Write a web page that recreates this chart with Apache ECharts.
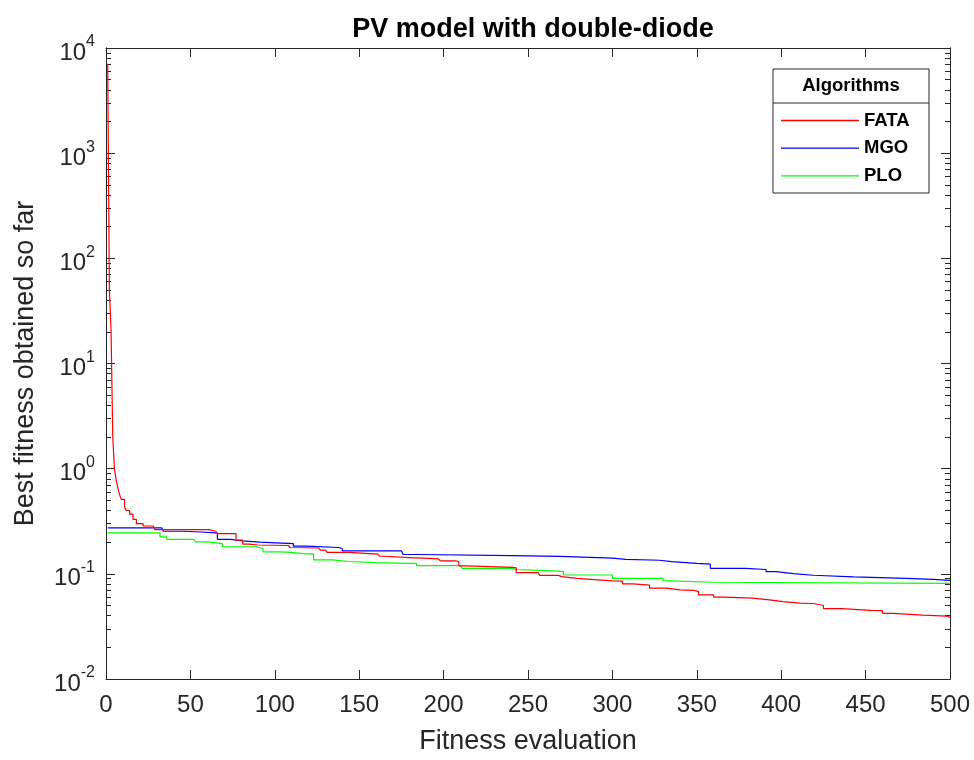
<!DOCTYPE html>
<html><head><meta charset="utf-8">
<script src="https://cdn.jsdelivr.net/npm/echarts@6/dist/echarts.min.js"></script>
<style>html,body{margin:0;padding:0;background:#fff}#c{width:974px;height:760px}</style>
</head><body><div id="c"></div>
<script>
// ---- data: [fitness evaluation, best fitness] change points (held until next point) ----
const fataData = [[1,7080],[2,51],[3,20.4],[4,2.0],[5,1.0],[6,0.78],[7,0.66],[8,0.57],[9,0.51],[11,0.43],[12,0.40],[14,0.37],[16,0.33],[18,0.30],[22,0.285],[28,0.284],[29,0.263],[61,0.263],[62,0.254],[65,0.254],[66,0.241],[74,0.241],[77,0.209],[81,0.192],[85,0.188],[90,0.186],[108,0.181],[109,0.178],[110,0.176],[126,0.172],[127,0.168],[130,0.168],[131,0.160],[144,0.158],[145,0.154],[161,0.152],[162,0.147],[165,0.147],[166,0.142],[182,0.142],[184,0.139],[197,0.137],[198,0.133],[207,0.131],[209,0.119],[213,0.115],[241,0.114],[243,0.1026],[256,0.100],[257,0.0968],[268,0.094],[270,0.0905],[279,0.0886],[287,0.0857],[300,0.0851],[306,0.0804],[312,0.0781],[322,0.073],[332,0.0705],[340,0.0695],[348,0.068],[351,0.0631],[360,0.060],[366,0.0587],[383,0.0565],[393,0.0545],[401,0.0526],[411,0.0522],[419,0.050],[425,0.0466],[436,0.0464],[438,0.0449],[453,0.0447],[460,0.0421],[466,0.0405],[484,0.0397],[498,0.0385],[500,0.0384]];
const mgoData = [[1,0.2735],[33,0.2735],[34,0.254],[46,0.250],[56,0.247],[63,0.244],[66,0.213],[74,0.209],[77,0.206],[81,0.200],[91,0.194],[111,0.1835],[119,0.178],[138,0.173],[140,0.1655],[175,0.1655],[176,0.1527],[185,0.149],[241,0.1465],[269,0.141],[300,0.1375],[308,0.1347],[328,0.1305],[335,0.1257],[350,0.1235],[358,0.1128],[379,0.110],[391,0.105],[397,0.1006],[407,0.0969],[419,0.0935],[443,0.0925],[444,0.0905],[474,0.0886],[490,0.0867],[500,0.0867]];
const ploData = [[1,0.245],[30,0.245],[32,0.225],[36,0.213],[52,0.213],[53,0.201],[60,0.201],[61,0.194],[69,0.181],[89,0.181],[90,0.174],[93,0.162],[103,0.1598],[109,0.155],[119,0.155],[123,0.136],[134,0.131],[144,0.128],[160,0.1257],[180,0.1257],[184,0.1195],[210,0.1195],[211,0.1128],[241,0.110],[243,0.106],[268,0.105],[271,0.0975],[300,0.0905],[330,0.0863],[331,0.0832],[360,0.0813],[500,0.0813]];
const seriesNames = ['FATA','MGO','PLO'];
const seriesColors = ['#ff0000','#0000ff','#00ff00'];
const xTickValues = [0,50,100,150,200,250,300,350,400,450,500];
const yMajorTicks = [0.01,0.1,1,10,100,1000,10000];
const yMinorTicks = [];
for (let i = 0; i < yMajorTicks.length - 1; i++) for (let k = 2; k <= 9; k++) yMinorTicks.push(+(k * yMajorTicks[i]).toPrecision(3));

const FONT = 'Liberation Sans';
const AX = '#262626';
const chart = echarts.init(document.getElementById('c'));
const baseX = {type:'value', min:xTickValues[0], max:xTickValues[xTickValues.length-1], interval:50, gridIndex:0,
  axisLine:{show:true, onZero:false, lineStyle:{color:AX, width:1}},
  axisTick:{show:true, inside:true, length:9, lineStyle:{color:AX}},
  splitLine:{show:false}};
const baseY = {type:'log', logBase:10, min:0.01, max:10000, gridIndex:0,
  axisLine:{show:true, onZero:false, lineStyle:{color:AX, width:1}},
  splitLine:{show:false}, axisLabel:{show:false}};
chart.setOption({
  animation:false,
  backgroundColor:'#fff',
  title:{text:'PV model with double-diode', left:528, top:11, textAlign:'center',
    textStyle:{fontFamily:FONT, fontSize:27, fontWeight:'bold', color:'#000'}},
  grid:{left:106, right:24, top:48, bottom:77, containLabel:false},
  xAxis:[
    Object.assign({}, baseX, {position:'bottom', name:'Fitness evaluation', nameLocation:'middle', nameGap:49,
      nameTextStyle:{fontFamily:FONT, fontSize:27, color:AX},
      axisLabel:{show:true, margin:14, fontFamily:FONT, fontSize:24, color:AX}}),
    Object.assign({}, baseX, {position:'top', axisLabel:{show:false}})
  ],
  yAxis:[
    Object.assign({}, baseY, {position:'left', offset:0,
      name:'Best fitness obtained so far', nameLocation:'middle', nameGap:67,
      nameTextStyle:{fontFamily:FONT, fontSize:27, color:AX},
      axisTick:{show:true, inside:true, length:9, customValues:yMajorTicks, lineStyle:{color:AX}},
      axisLabel:{show:true, margin:11, customValues:yMajorTicks,
        formatter:v => '{b|10}{s|' + Math.round(Math.log10(v)) + '}',
        rich:{b:{fontFamily:FONT, fontSize:24, color:AX, padding:[10,0,0,0], verticalAlign:'bottom'},
              s:{fontFamily:FONT, fontSize:16, color:AX, padding:[3,0,0,0], verticalAlign:'top'}}}}),
    Object.assign({}, baseY, {position:'left', offset:0,
      axisTick:{show:true, inside:true, length:5, customValues:yMinorTicks, lineStyle:{color:AX}}}),
    Object.assign({}, baseY, {position:'right', offset:0,
      axisTick:{show:true, inside:true, length:9, customValues:yMajorTicks, lineStyle:{color:AX}}}),
    Object.assign({}, baseY, {position:'right', offset:0,
      axisTick:{show:true, inside:true, length:5, customValues:yMinorTicks, lineStyle:{color:AX}}})
  ],
  legend:{data:seriesNames, orient:'vertical', left:781, top:111, padding:0, icon:'rect', itemWidth:78, itemHeight:1.3, itemGap:8.7,
    textStyle:{fontFamily:FONT, fontSize:18.5, fontWeight:'bold', color:'#000'}, z:10},
  graphic:[
    {type:'rect', z:8, shape:{x:773, y:69, width:156, height:124}, style:{fill:'#fff', stroke:AX, lineWidth:1}},
    {type:'line', z:9, shape:{x1:773, y1:103, x2:929, y2:103}, style:{stroke:AX, lineWidth:1}},
    {type:'text', z:9, x:851, y:86, style:{text:'Algorithms', fontFamily:FONT, fontSize:18.5, fontWeight:'bold', fill:'#000', align:'center', verticalAlign:'middle'}}
  ],
  series:[
    {name:seriesNames[0], type:'line', step:'end', data:fataData, symbol:'none', lineStyle:{color:seriesColors[0], width:1.2}, itemStyle:{color:seriesColors[0]}, z:3},
    {name:seriesNames[1], type:'line', step:'end', data:mgoData, symbol:'none', lineStyle:{color:seriesColors[1], width:1.2}, itemStyle:{color:seriesColors[1]}, z:2},
    {name:seriesNames[2], type:'line', step:'end', data:ploData, symbol:'none', lineStyle:{color:seriesColors[2], width:1.2}, itemStyle:{color:seriesColors[2]}, z:2}
  ]
});
</script></body></html>
